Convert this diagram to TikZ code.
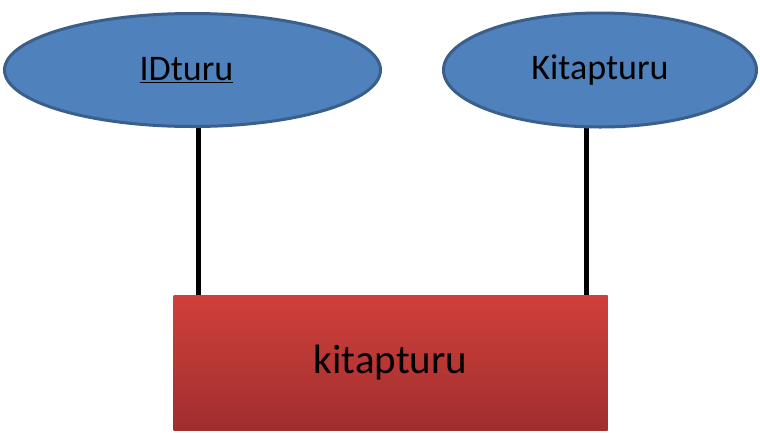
\documentclass[tikz,border=0pt]{standalone}
\usepackage{fontspec}
\setmainfont{Carlito}
\usetikzlibrary{shapes.geometric}
\definecolor{efill}{HTML}{4F81BD}
\definecolor{eline}{HTML}{3A5F8B}
\definecolor{rtop}{HTML}{D0403B}
\definecolor{rbot}{HTML}{A02E2E}
\tikzset{
  attr/.style={ellipse, draw=eline, line width=3pt, fill=efill, inner sep=0pt,
    font=\fontsize{36}{40}\selectfont},
  entity/.style={rectangle, top color=rtop, bottom color=rbot, draw=none, inner sep=0pt,
    minimum width=434pt, minimum height=135pt, font=\fontsize{41}{46}\selectfont},
  link/.style={line width=5pt, black}
}
\begin{document}
\begin{tikzpicture}[x=1pt,y=-1pt]
\useasboundingbox (0,0) rectangle (760,432);
\fill[white] (0,0) rectangle (760,432);
\node[entity] (r) at (390.5,362.5) {kitapturu};
\coordinate (c1) at (198,110);
\coordinate (c2) at (586,110);
\draw[link] (c1) -- (c1 |- r.north);
\draw[link] (c2) -- (c2 |- r.north);
\node[attr, minimum width=376pt, minimum height=113pt] (e1) at (192.5,70) {\hspace*{-12pt}\underline{IDturu}};
\node[attr, minimum width=313pt, minimum height=114pt] (e2) at (600,70) {Kitapturu};
\end{tikzpicture}
\end{document}
